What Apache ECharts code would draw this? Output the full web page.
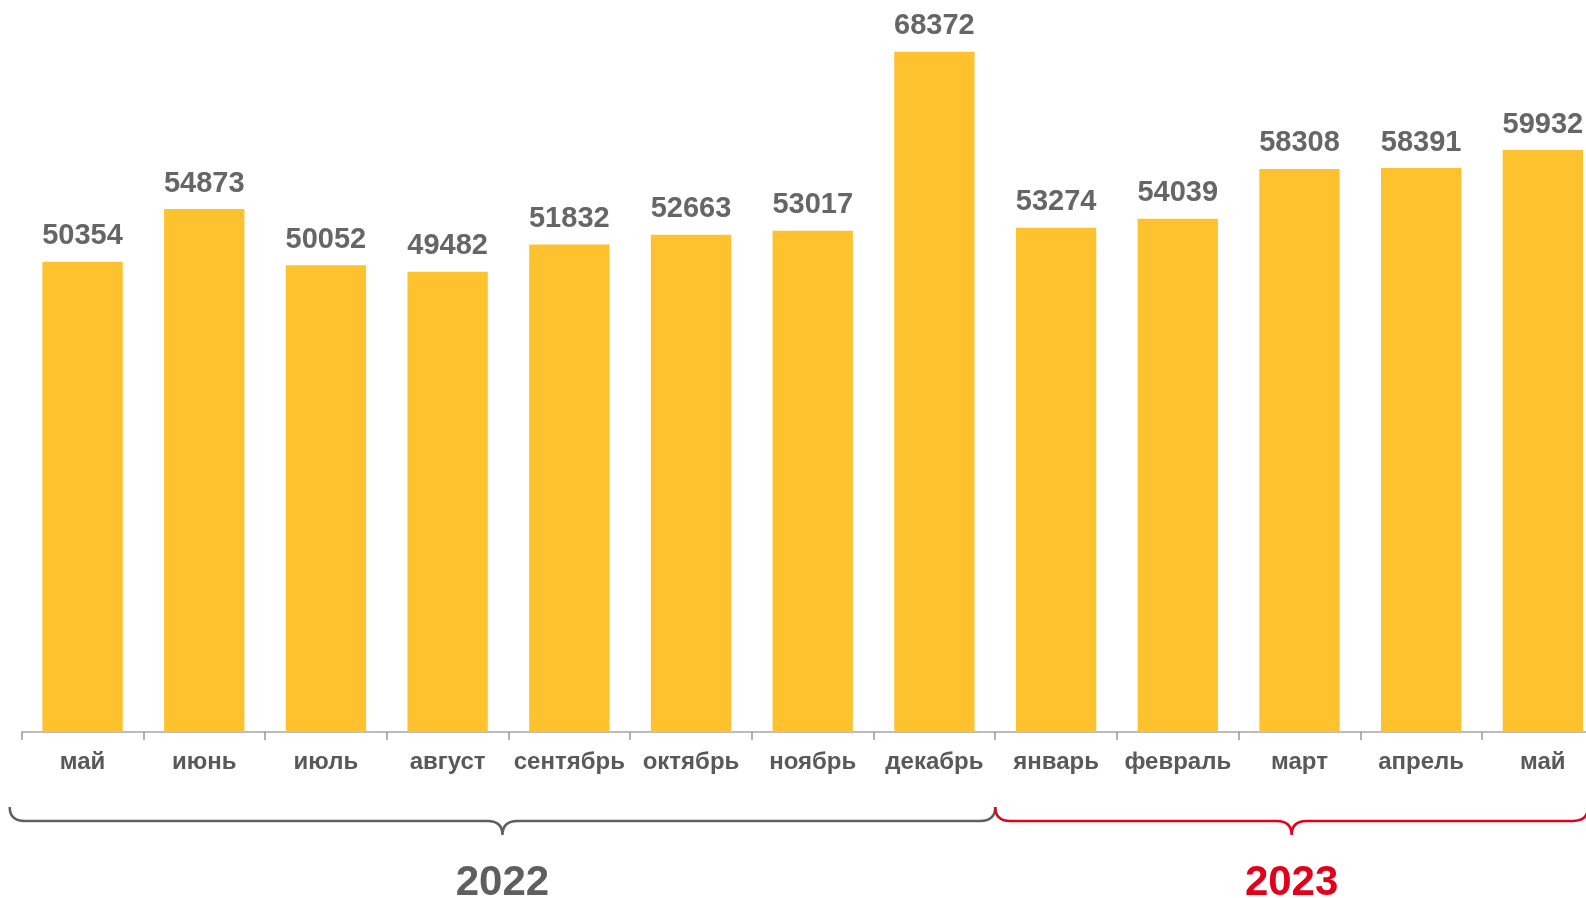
<!DOCTYPE html>
<html>
<head>
<meta charset="utf-8">
<script src="https://cdn.jsdelivr.net/npm/echarts@6/dist/echarts.min.js"></script>
<style>
  html, body { margin: 0; padding: 0; background: #fff; }
  #chart { width: 1586px; height: 898px; }
</style>
</head>
<body>
<div id="chart"></div>
<script>
// месяцы по оси X
const months = ['май', 'июнь', 'июль', 'август', 'сентябрь', 'октябрь', 'ноябрь', 'декабрь',
  'январь', 'февраль', 'март', 'апрель', 'май'];
// значения столбцов
const values = [50354, 54873, 50052, 49482, 51832, 52663, 53017, 68372, 53274, 54039, 58308, 58391, 59932];
// группы по годам (индексы категорий)
const years = ['2022', '2023'];
const yearStart = [0, 8];
const yearEnd = [7, 12];
const yearColors = ['#5f5f5f', '#e2001a'];

const yMin = 10000;
const yMax = 70000;
const fontFamily = '"Liberation Sans", Arial, sans-serif';

const chart = echarts.init(document.getElementById('chart'));

// фигурная скобка под подписями
const renderBrace = (params, api) => {
  const band = api.size([1, 0])[0];
  const start = api.coord([api.value(0), yMin]);
  const axisY = start[1];
  let xa = start[0] - band / 2;
  let xb = api.coord([api.value(1), yMin])[0] + band / 2;
  if (params.dataIndex === 0) xa -= 12;
  xb = Math.min(xb, api.getWidth() + 2);
  const xm = (xa + xb) / 2;
  const r = 15;
  const yTop = axisY + 75;
  const yLine = axisY + 89;
  const yTip = axisY + 103;
  const color = yearColors[params.dataIndex];
  const pathData =
    'M' + xa + ',' + yTop +
    ' Q' + xa + ',' + yLine + ' ' + (xa + r) + ',' + yLine +
    ' L' + (xm - r) + ',' + yLine +
    ' Q' + xm + ',' + yLine + ' ' + xm + ',' + yTip +
    ' Q' + xm + ',' + yLine + ' ' + (xm + r) + ',' + yLine +
    ' L' + (xb - r) + ',' + yLine +
    ' Q' + xb + ',' + yLine + ' ' + xb + ',' + yTop;
  return {
    type: 'group',
    children: [
      {
        type: 'path',
        shape: { pathData: pathData },
        style: { fill: 'none', stroke: color, lineWidth: 2.5 }
      },
      {
        type: 'text',
        style: {
          text: years[params.dataIndex],
          x: xm,
          y: axisY + 151,
          align: 'center',
          verticalAlign: 'middle',
          fontSize: 42,
          fontWeight: 'bold',
          fontFamily: fontFamily,
          fill: color
        }
      }
    ]
  };
};

const option = {
  animation: false,
  grid: {
    left: 21.7,
    right: -17.7,
    top: 32.7,
    bottom: 166,
    containLabel: false,
    outerBoundsMode: 'none'
  },
  xAxis: {
    type: 'category',
    data: months,
    axisLine: { show: true, lineStyle: { color: '#a6a6a6', width: 1.5 } },
    axisTick: { show: true, alignWithLabel: false, length: 8, lineStyle: { color: '#999999', width: 1.5 } },
    axisLabel: {
      interval: 0,
      margin: 18,
      fontSize: 24,
      fontWeight: 'bold',
      fontFamily: fontFamily,
      color: '#595959'
    }
  },
  yAxis: {
    type: 'value',
    min: yMin,
    max: yMax,
    show: false
  },
  series: [
    {
      type: 'bar',
      data: values,
      barWidth: '66%',
      itemStyle: { color: '#fec22f' },
      label: {
        show: true,
        position: 'top',
        distance: 11,
        fontSize: 29,
        fontWeight: 'bold',
        fontFamily: fontFamily,
        color: '#666666'
      }
    },
    {
      type: 'custom',
      renderItem: renderBrace,
      clip: false,
      silent: true,
      encode: { x: 0, y: 2 },
      data: years.map((y, i) => [yearStart[i], yearEnd[i], yMin])
    }
  ]
};

chart.setOption(option);
</script>
</body>
</html>
